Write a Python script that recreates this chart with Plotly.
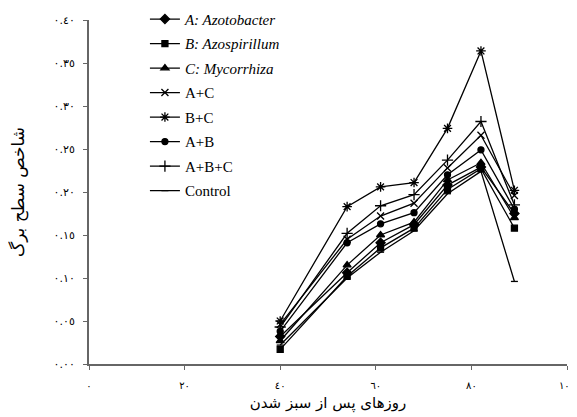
import plotly.graph_objects as go

days = [40, 54, 61, 68, 75, 82, 89]

series_names = ["<i>A: Azotobacter</i>", "<i>B: Azospirillum</i>", "<i>C: Mycorrhiza</i>",
                "A+C", "B+C", "A+B", "A+B+C", "Control"]

A_vals = [0.032, 0.106, 0.141, 0.162, 0.208, 0.229, 0.175]
B_vals = [0.017, 0.102, 0.135, 0.158, 0.203, 0.227, 0.158]
C_vals = [0.027, 0.115, 0.150, 0.165, 0.214, 0.234, 0.170]
AC_vals = [0.046, 0.145, 0.172, 0.187, 0.228, 0.266, 0.196]
BC_vals = [0.050, 0.183, 0.206, 0.211, 0.274, 0.364, 0.202]
AB_vals = [0.038, 0.141, 0.163, 0.176, 0.220, 0.249, 0.180]
ABC_vals = [0.043, 0.152, 0.184, 0.197, 0.237, 0.282, 0.185]
Control_vals = [0.022, 0.100, 0.130, 0.155, 0.198, 0.224, 0.096]

all_vals = [A_vals, B_vals, C_vals, AC_vals, BC_vals, AB_vals, ABC_vals, Control_vals]
symbols = ["diamond", "square", "triangle-up", "x-thin-open", "asterisk-open",
           "circle", "cross-thin-open", "line-ew-open"]
sizes = [7, 6, 7, 7, 8, 6, 8, 5]

x_tickvals = [0, 20, 40, 60, 80, 100]
x_ticktext = ["٠", "٢٠", "٤٠", "٦٠", "٨٠", "١٠٠"]
y_tickvals = [0, 0.05, 0.10, 0.15, 0.20, 0.25, 0.30, 0.35, 0.40]
y_ticktext = ["٠.٠٠", "٠.٠٥", "٠.١٠", "٠.١٥", "٠.٢٠", "٠.٢٥", "٠.٣٠", "٠.٣٥", "٠.٤٠"]

fig = go.Figure()
for i, (name, vals, sym, sz) in enumerate(zip(series_names, all_vals, symbols, sizes)):
    fig.add_trace(go.Scatter(
        x=days, y=vals, name=name, mode="lines+markers", legendgroup=f"g{i}",
        line=dict(color="black", width=1.3),
        marker=dict(symbol=sym, size=sz, color="black",
                    line=dict(color="black", width=1.3)),
    ))

serif = "Liberation Serif"
arab = "DejaVu Sans"
# page has an 8px body margin, so the figure is sized to end at the window edge
fig.update_layout(
    width=569, height=409,
    margin=dict(l=81, r=10, t=12, b=53, autoexpand=False),
    paper_bgcolor="white", plot_bgcolor="white",
    font=dict(family=serif, size=13, color="black"),
    showlegend=True,
    legend=dict(x=0.117, y=1.05, xanchor="left", yanchor="top",
                bgcolor="rgba(0,0,0,0)", font=dict(family=serif, size=15),
                tracegroupgap=2, itemwidth=30, maxheight=400),
    xaxis=dict(range=[0, 100], tickvals=x_tickvals, ticktext=x_ticktext,
               showgrid=False, zeroline=False, showline=True,
               linecolor="#666", linewidth=2, ticks="outside", ticklen=4,
               tickcolor="#666", tickfont=dict(size=10, family=arab),
               ticklabelstandoff=7,
               title=dict(text="روزهای پس از سبز شدن", font=dict(size=15, family=arab),
                          standoff=7)),
    yaxis=dict(range=[0, 0.40], tickvals=y_tickvals, ticktext=y_ticktext,
               showgrid=False, zeroline=False, showline=True,
               linecolor="#666", linewidth=2, ticks="outside", ticklen=4,
               tickcolor="#666", tickfont=dict(size=11, family=arab),
               ticklabelstandoff=6,
               title=dict(text="شاخص سطح برگ", font=dict(size=17, family=arab),
                          standoff=29)),
)

fig.write_html("out.html")
